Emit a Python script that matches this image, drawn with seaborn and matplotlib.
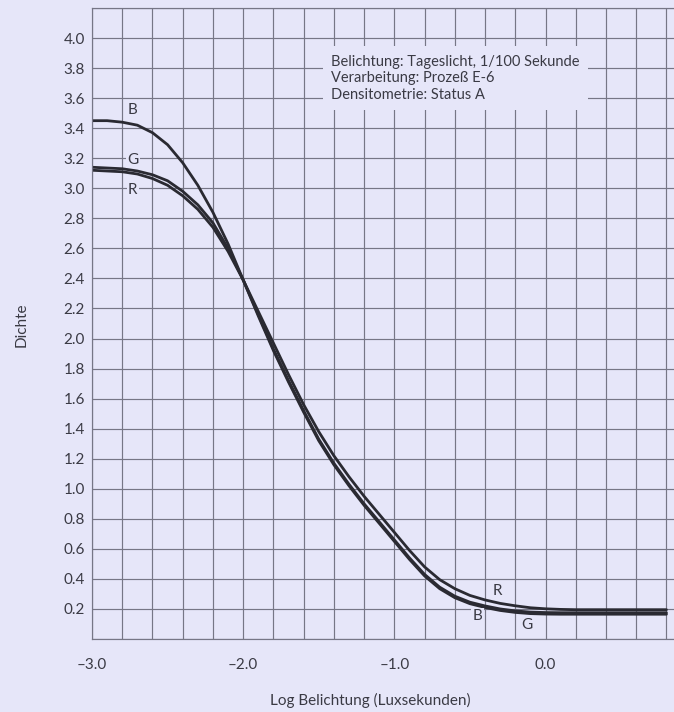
import numpy as np
import pandas as pd
import matplotlib
matplotlib.use("Agg")
import matplotlib.pyplot as plt
from matplotlib.ticker import FixedLocator, MultipleLocator
import seaborn as sns

# ----------------------------
# DATA
# ----------------------------
log_h = [-3.0, -2.9, -2.8, -2.7, -2.6, -2.5, -2.4, -2.3, -2.2, -2.1,
         -2.0, -1.9, -1.8, -1.7, -1.6, -1.5, -1.4, -1.3, -1.2, -1.1,
         -1.0, -0.9, -0.8, -0.7, -0.6, -0.5, -0.4, -0.3, -0.2, -0.1,
         0.0, 0.1, 0.2, 0.3, 0.4, 0.5, 0.6, 0.7, 0.8]

dens_b = [3.45, 3.45, 3.44, 3.42, 3.37, 3.29, 3.17, 3.02, 2.84, 2.63,
          2.39, 2.15, 1.92, 1.71, 1.51, 1.32, 1.16, 1.02, 0.89, 0.77,
          0.65, 0.53, 0.42, 0.335, 0.275, 0.235, 0.21, 0.19, 0.177, 0.169,
          0.166, 0.165, 0.165, 0.165, 0.165, 0.165, 0.165, 0.165, 0.165]

dens_g = [3.14, 3.135, 3.13, 3.115, 3.09, 3.05, 2.98, 2.89, 2.77, 2.60,
          2.39, 2.16, 1.93, 1.72, 1.52, 1.33, 1.17, 1.03, 0.90, 0.78,
          0.66, 0.54, 0.43, 0.345, 0.285, 0.245, 0.22, 0.20, 0.187, 0.179,
          0.176, 0.175, 0.175, 0.175, 0.175, 0.175, 0.175, 0.175, 0.175]

dens_r = [3.12, 3.115, 3.11, 3.095, 3.065, 3.02, 2.95, 2.86, 2.74, 2.58,
          2.39, 2.18, 1.97, 1.76, 1.56, 1.38, 1.22, 1.08, 0.95, 0.83,
          0.71, 0.59, 0.48, 0.395, 0.335, 0.29, 0.26, 0.237, 0.221, 0.208,
          0.201, 0.197, 0.195, 0.195, 0.195, 0.195, 0.195, 0.195, 0.195]

x_labels = ["\u20133.0", "\u20132.0", "\u20131.0", "0.0"]
x_label_pos = [-3.0, -2.0, -1.0, 0.0]

info_lines = ["Belichtung: Tageslicht, 1/100 Sekunde",
              "Verarbeitung: Prozeß E-6",
              "Densitometrie: Status A"]

# curve letters: (text, x, y)
letters = [("B", -2.73, 3.52), ("G", -2.73, 3.19), ("R", -2.73, 2.99),
           ("R", -0.32, 0.32), ("B", -0.45, 0.15), ("G", -0.12, 0.09)]

# ----------------------------
# STYLE
# ----------------------------
BG = "#e6e6f9"
GRID = "#767686"
INK = "#2a2a32"
TXT = "#3a3a44"

sns.set_theme(style="white")
plt.rcParams["font.family"] = ["Lato", "DejaVu Sans"]

df = pd.concat([
    pd.DataFrame({"logH": log_h, "D": dens_b, "layer": "B"}),
    pd.DataFrame({"logH": log_h, "D": dens_g, "layer": "G"}),
    pd.DataFrame({"logH": log_h, "D": dens_r, "layer": "R"}),
])

fig = plt.figure(figsize=(6.74, 7.12), dpi=100, facecolor=BG)
ax = fig.add_axes([92 / 674, 73 / 712, 582 / 674, 631 / 712])
ax.set_facecolor(BG)

sns.lineplot(data=df, x="logH", y="D", units="layer", estimator=None,
             color=INK, linewidth=2.0, sort=False, ax=ax, legend=False)
for ln in ax.lines:
    ln.set_solid_joinstyle("round")

ax.set_xlim(-3.0, 0.85)
ax.set_ylim(0.0, 4.2)

# grid every 0.2 on both axes
ax.xaxis.set_major_locator(FixedLocator(x_label_pos))
ax.set_xticklabels(x_labels)
ax.xaxis.set_minor_locator(MultipleLocator(0.2))
ax.yaxis.set_major_locator(FixedLocator([round(0.2 * i, 1) for i in range(1, 21)]))
ax.yaxis.set_minor_locator(MultipleLocator(0.2))
ax.grid(True, which="both", color=GRID, linewidth=0.85)
ax.set_axisbelow(True)
ax.tick_params(axis="both", which="both", length=0, labelsize=11, colors=TXT)
ax.tick_params(axis="x", pad=14)
ax.tick_params(axis="y", pad=5)

for side in ["left", "bottom", "top"]:
    ax.spines[side].set_color(GRID)
    ax.spines[side].set_linewidth(0.85)
ax.spines["right"].set_visible(False)

ax.set_xlabel("")
ax.set_ylabel("")
fig.text(370 / 674, 1 - 700 / 712, "Log Belichtung (Luxsekunden)",
         ha="center", va="center", fontsize=11, color=TXT)
fig.text(22 / 674, 1 - 325 / 712, "Dichte", rotation=90,
         ha="center", va="center", fontsize=11, color=TXT)

ax.text(-1.417, 3.89, "\n".join(info_lines), ha="left", va="top",
        fontsize=10.5, color=TXT, linespacing=1.25,
        bbox=dict(facecolor=BG, edgecolor="none", pad=6))

for txt, lx, ly in letters:
    ax.text(lx, ly, txt, ha="center", va="center", fontsize=11, color=TXT,
            bbox=dict(facecolor=BG, edgecolor="none", pad=1.0))

fig.savefig("out.png", dpi=100, facecolor=BG)
